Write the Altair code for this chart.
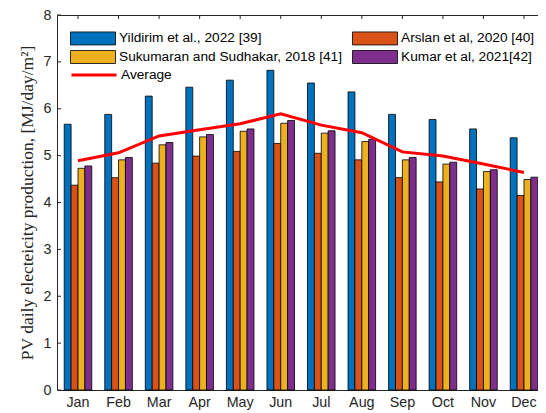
import altair as alt
import pandas as pd

months = ["Jan", "Feb", "Mar", "Apr", "May", "Jun", "Jul", "Aug", "Sep", "Oct", "Nov", "Dec"]
series = ["Yildirim et al., 2022 [39]", "Arslan et al, 2020 [40]",
          "Sukumaran and Sudhakar, 2018 [41]", "Kumar et al, 2021[42]"]
legend_order = ["Yildirim et al., 2022 [39]", "Sukumaran and Sudhakar, 2018 [41]",
                "Arslan et al, 2020 [40]", "Kumar et al, 2021[42]"]
colors = ["#0072BD", "#D95319", "#EDB120", "#7E2F8E"]

yildirim = [5.67, 5.88, 6.27, 6.46, 6.61, 6.82, 6.55, 6.36, 5.88, 5.77, 5.57, 5.38]
arslan = [4.37, 4.53, 4.84, 4.99, 5.09, 5.26, 5.05, 4.91, 4.53, 4.44, 4.29, 4.15]
sukumaran = [4.73, 4.91, 5.23, 5.40, 5.52, 5.69, 5.48, 5.30, 4.91, 4.82, 4.66, 4.49]
kumar = [4.78, 4.96, 5.28, 5.45, 5.57, 5.75, 5.53, 5.35, 4.96, 4.86, 4.70, 4.54]
average = [4.89, 5.06, 5.42, 5.55, 5.68, 5.89, 5.65, 5.49, 5.08, 4.99, 4.82, 4.64]

y_ticks = [0, 1, 2, 3, 4, 5, 6, 7, 8]

rows = []
for name, vals in zip(series, [yildirim, arslan, sukumaran, kumar]):
    for m, v in zip(months, vals):
        rows.append({"month": m, "series": name, "value": v})
bars_df = pd.DataFrame(rows)
avg_df = pd.DataFrame({"month": months, "value": average, "series": ["Average"] * len(months)})
yt_df = pd.DataFrame({"v": y_ticks})
mt_df = pd.DataFrame({"month": months})

W, H = 488, 375
FONT = "Liberation Sans"
TXT = "#262626"
LFS = 13.7

xscale = alt.Scale(domain=months, paddingInner=0.32, paddingOuter=0.178)
yscale = alt.Scale(domain=[0, 8], nice=False)

rect_path = "M-1,-1H5.923V1H-1Z"
line_path = "M-1,0H5.923"

bars = alt.Chart(bars_df).mark_bar(stroke="black", strokeWidth=0.8).encode(
    x=alt.X("month:N", sort=months, scale=xscale,
            axis=alt.Axis(title=None, labelAngle=0, labelAlign="center", ticks=False,
                          domain=False, labelFont=FONT, labelFontSize=14.3, labelColor=TXT,
                          labelPadding=12)),
    xOffset=alt.XOffset("series:N", sort=series,
                        scale=alt.Scale(domain=series, paddingInner=0, paddingOuter=0)),
    y=alt.Y("value:Q", scale=yscale,
            axis=alt.Axis(values=y_ticks, title="PV daily electeicity production, [MJ/day/m²]",
                          titleFont="Liberation Serif", titleFontSize=17.5, titleFontWeight="normal",
                          titleColor=TXT, titlePadding=7,
                          ticks=False, tickSize=0, domain=False, grid=False,
                          labelFont=FONT, labelFontSize=14.3, labelColor=TXT, labelPadding=6)),
    color=alt.Color("series:N", sort=series,
                    scale=alt.Scale(domain=series, range=colors),
                    legend=alt.Legend(title=None, orient="none", legendX=13, legendY=16,
                                      values=legend_order,
                                      columns=2, columnPadding=8, rowPadding=1, padding=0,
                                      symbolType=rect_path, symbolSize=169,
                                      symbolStrokeColor="black", symbolStrokeWidth=0.8,
                                      symbolOpacity=1, labelOffset=35,
                                      labelFont=FONT, labelFontSize=LFS, labelColor="black",
                                      labelLimit=400)),
)

line = alt.Chart(avg_df).mark_line(strokeWidth=3).encode(
    x=alt.X("month:N", sort=months, scale=xscale),
    y=alt.Y("value:Q", scale=yscale),
    stroke=alt.Stroke("series:N", scale=alt.Scale(domain=["Average"], range=["#FF0000"]),
                      legend=alt.Legend(title=None, orient="none", legendX=13, legendY=52,
                                        padding=0, symbolType=line_path, symbolSize=169,
                                        symbolStrokeWidth=3, symbolFillColor="transparent",
                                        labelOffset=35, labelFont=FONT, labelFontSize=LFS,
                                        labelColor="black", labelLimit=400)),
)

left_ticks = alt.Chart(yt_df).mark_rule(color=TXT, strokeWidth=1).encode(
    y=alt.Y("v:Q", scale=yscale), x=alt.value(0), x2=alt.value(4))
right_ticks = alt.Chart(yt_df).mark_rule(color=TXT, strokeWidth=1).encode(
    y=alt.Y("v:Q", scale=yscale), x=alt.value(W - 4), x2=alt.value(W))
top_ticks = alt.Chart(mt_df).mark_rule(color=TXT, strokeWidth=1).encode(
    x=alt.X("month:N", sort=months, scale=xscale), y=alt.value(0), y2=alt.value(4))

chart = alt.layer(left_ticks, right_ticks, top_ticks, bars, line).properties(
    width=W, height=H,
    autosize=alt.AutoSizeParams(type="none"),
    padding={"left": 49, "top": 7, "right": -7, "bottom": 30},
    background="white",
).configure_view(stroke=TXT, strokeWidth=1)

chart.save("out.html", embed_options={"renderer": "svg", "actions": False})
